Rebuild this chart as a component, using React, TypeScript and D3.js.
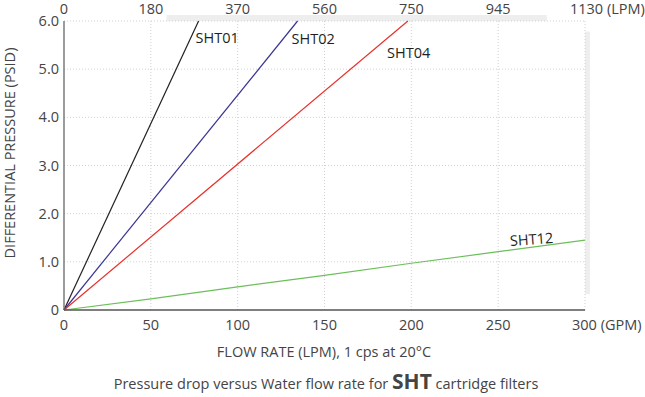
import React from 'react';
import * as d3 from 'd3';

// flow rate in GPM, pressure in PSID
const gpmTicks = [0, 50, 100, 150, 200, 250, 300];
const lpmLabels = ['0', '180', '370', '560', '750', '945', '1130 (LPM)'];
const psiTicks = [0, 1, 2, 3, 4, 5, 6];

const sht01 = [[0, 0], [77.5, 6]];
const sht02 = [[0, 0], [134.5, 6]];
const sht04 = [[0, 0], [198, 6]];
const sht12 = [[0, 0], [50, 0.23], [100, 0.48], [150, 0.72], [200, 0.97], [250, 1.21], [300, 1.45]];

const seriesNames = ['SHT01', 'SHT02', 'SHT04', 'SHT12'];
const seriesData = [sht01, sht02, sht04, sht12];
const seriesColors = ['#231f20', '#3a3593', '#e8302a', '#6cbf5a'];

export default function App() {
  const W = 645, H = 397;
  const margin = {top: 21, right: 60, bottom: 87, left: 64};
  const x = d3.scaleLinear().domain([0, 300]).range([margin.left, W - margin.right]);
  const y = d3.scaleLinear().domain([0, 6]).range([H - margin.bottom, margin.top]);
  const line = d3.line<number[]>().x(d => x(d[0])).y(d => y(d[1]));
  const font = '"Open Sans", sans-serif';
  const txt = '#444';
  const fs = 14.5;

  return (
    <svg width={W} height={H} style={{position: 'absolute', left: 0, top: 0}} fontFamily={font}>
      <rect x={0} y={0} width={W} height={H} fill="#fff" />
      {/* faint shadow bands */}
      <rect x={x(59)} y={15} width={x(278) - x(59)} height={6} fill="#eeeeee" />
      <rect x={x(300)} y={y(5.78)} width={5} height={y(0.33) - y(5.78)} fill="#eeeeee" />

      {gpmTicks.slice(1).map(t => (
        <line key={'gx' + t} x1={x(t)} x2={x(t)} y1={y(0)} y2={y(6)} stroke="#d0d0d0" strokeDasharray="1,2" />
      ))}
      {psiTicks.slice(1).map(t => (
        <line key={'gy' + t} x1={x(0)} x2={x(300)} y1={y(t)} y2={y(t)} stroke="#d0d0d0" strokeDasharray="1,2" />
      ))}

      {seriesData.map((s, i) => (
        <path key={seriesNames[i]} d={line(s) || ''} fill="none" stroke={seriesColors[i]} strokeWidth={1.2} />
      ))}

      <line x1={x(0)} x2={x(0)} y1={y(6)} y2={y(0)} stroke="#666" strokeWidth={1.3} />
      <line x1={x(0)} x2={x(300)} y1={y(0)} y2={y(0)} stroke="#555" strokeWidth={1.3} />

      {psiTicks.map(t => (
        <text key={'yl' + t} x={x(0) - 5} y={y(t)} dy="0.35em" textAnchor="end" fontSize={fs} fill={txt}>
          {t === 0 ? '0' : t.toFixed(1)}
        </text>
      ))}
      {gpmTicks.map((t, i) => (
        <text key={'xl' + t} x={x(t)} y={330} textAnchor={i === gpmTicks.length - 1 ? 'start' : 'middle'}
          dx={i === gpmTicks.length - 1 ? -13 : 0} fontSize={fs} fill={txt}>
          {i === gpmTicks.length - 1 ? t + ' (GPM)' : t}
        </text>
      ))}
      {lpmLabels.map((l, i) => (
        <text key={'tl' + i} x={x(gpmTicks[i])} y={14} textAnchor={i === lpmLabels.length - 1 ? 'start' : 'middle'}
          dx={i === lpmLabels.length - 1 ? -15 : 0} fontSize={fs} fill={txt}>
          {l}
        </text>
      ))}

      <text x={x(77.5) - 3} y={43} fontSize={fs} fill="#231f20">SHT01</text>
      <text x={x(134.5) - 6} y={44} fontSize={fs} fill="#231f20">SHT02</text>
      <text x={x(186)} y={58} fontSize={fs} fill="#231f20">SHT04</text>
      <text x={x(257)} y={y(1.33)} fontSize={fs} fill="#231f20" transform={`rotate(-4 ${x(257)} ${y(1.33)})`}>SHT12</text>

      <text transform="translate(15, 153) rotate(-90)" textAnchor="middle" fontSize={fs} fill={txt}>
        DIFFERENTIAL PRESSURE (PSID)
      </text>
      <text x={324} y={357} textAnchor="middle" fontSize={fs} fill={txt}>FLOW RATE (LPM), 1 cps at 20°C</text>
      <text x={326} y={389} textAnchor="middle" fontSize={fs} fill={txt}>
        Pressure drop versus Water flow rate for <tspan fontSize={21} fontWeight="bold">SHT</tspan> cartridge filters
      </text>
    </svg>
  );
}
